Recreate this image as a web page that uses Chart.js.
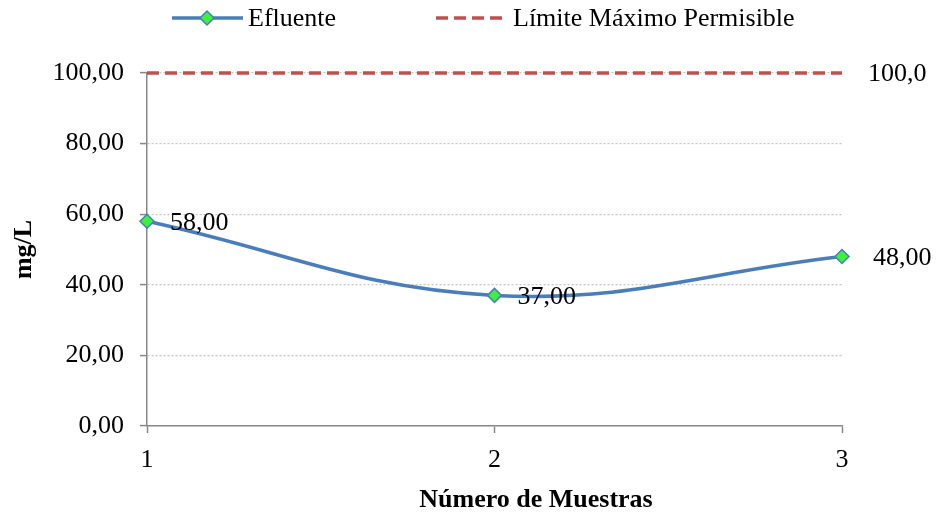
<!DOCTYPE html>
<html>
<head>
<meta charset="utf-8">
<script src="https://cdn.jsdelivr.net/npm/chart.js@4.4.1/dist/chart.umd.min.js"></script>
<style>
  html, body { margin: 0; padding: 0; background: #fff; }
  #wrap { width: 936px; height: 518px; }
</style>
</head>
<body>
<div id="wrap"><canvas id="chart" width="936" height="518"></canvas></div>
<script>
// === データ ===
const muestras = ['1', '2', '3'];
const efluente = [58, 37, 48];
const limiteMaximo = [100, 100, 100];
const yTicks = [0, 20, 40, 60, 80, 100];

const FONT = "'Liberation Serif', 'Times New Roman', serif";
const BLUE = '#4a7ebb';
const GREEN = '#3cf03c';
const RED = '#c0504d';

const fmt = (v, d) => v.toFixed(d).replace('.', ',');

// 値ラベル (点の右側)
const labelOffsets = [23, 23, 31];
const valueLabels = {
  id: 'valueLabels',
  afterDatasetsDraw(chart) {
    const ctx = chart.ctx;
    ctx.save();
    ctx.font = '26px ' + FONT;
    ctx.fillStyle = '#000';
    ctx.textBaseline = 'middle';
    ctx.textAlign = 'left';
    chart.getDatasetMeta(0).data.forEach((pt, i) => {
      ctx.fillText(fmt(efluente[i], 2), pt.x + labelOffsets[i], pt.y + 2);
    });
    const m1 = chart.getDatasetMeta(1);
    const last = m1.data[m1.data.length - 1];
    ctx.fillText(fmt(limiteMaximo[limiteMaximo.length - 1], 1), last.x + 26, last.y + 1);
    ctx.restore();
  }
};

// 凡例とX軸タイトル (Excel風)
const decorations = {
  id: 'decorations',
  afterDraw(chart) {
    const ctx = chart.ctx;
    const y = 18;
    ctx.save();
    ctx.lineWidth = 3.5;
    ctx.strokeStyle = BLUE;
    ctx.beginPath(); ctx.moveTo(172, y); ctx.lineTo(243, y); ctx.stroke();
    ctx.fillStyle = GREEN;
    ctx.lineWidth = 1.5;
    ctx.beginPath();
    ctx.moveTo(207, y - 7); ctx.lineTo(214, y); ctx.lineTo(207, y + 7); ctx.lineTo(200, y); ctx.closePath();
    ctx.fill(); ctx.stroke();
    ctx.strokeStyle = RED;
    ctx.lineWidth = 3.5;
    ctx.setLineDash([12, 6]);
    ctx.beginPath(); ctx.moveTo(436, y); ctx.lineTo(504, y); ctx.stroke();
    ctx.setLineDash([]);
    ctx.font = '26px ' + FONT;
    ctx.fillStyle = '#000';
    ctx.textBaseline = 'middle';
    ctx.fillText('Efluente', 248, y + 1);
    ctx.fillText('Límite Máximo Permisible', 513, y + 1);
    ctx.font = 'bold 26px ' + FONT;
    ctx.textAlign = 'center';
    ctx.fillText('Número de Muestras', 536, 500);
    ctx.restore();
  }
};

const ctx = document.getElementById('chart').getContext('2d');
new Chart(ctx, {
  type: 'line',
  data: {
    labels: muestras,
    datasets: [
      {
        label: 'Efluente', data: efluente,
        borderColor: BLUE, borderWidth: 3.5, tension: 0.4,
        pointStyle: 'rectRot', pointRadius: 7, pointBackgroundColor: GREEN,
        pointBorderColor: BLUE, pointBorderWidth: 1.5, order: 1, clip: false
      },
      {
        label: 'Límite Máximo Permisible', data: limiteMaximo,
        borderColor: RED, borderWidth: 3.5, borderDash: [12, 6],
        pointRadius: 0, tension: 0, order: 2, clip: false
      }
    ]
  },
  options: {
    responsive: false, animation: false,
    layout: { padding: { top: 73, right: 94, left: 0, bottom: 0 } },
    plugins: { legend: { display: false }, tooltip: { enabled: false } },
    scales: {
      x: {
        type: 'category', offset: false,
        afterFit: (axis) => { axis.height = 92; },
        grid: { drawOnChartArea: false, drawTicks: true, tickLength: 7, tickColor: '#888', tickWidth: 1.5 },
        border: { color: '#888', width: 1.5 },
        ticks: { color: '#000', font: { family: FONT, size: 26 }, padding: 12, maxRotation: 0 }
      },
      y: {
        min: 0, max: 100,
        afterFit: (axis) => { axis.width = 147; },
        afterBuildTicks: (axis) => { axis.ticks = yTicks.map(v => ({ value: v })); },
        grid: { color: '#c4c4c4', tickBorderDash: [], tickColor: '#888', tickLength: 7, tickWidth: 1.5, lineWidth: 1.2 },
        border: { color: '#888', width: 1.5, dash: [2, 2] },
        ticks: { color: '#000', font: { family: FONT, size: 26 }, padding: 16, callback: (v) => fmt(v, 2) },
        title: { display: true, text: 'mg/L', color: '#000', font: { family: FONT, size: 26, weight: 'bold' }, padding: { top: 9, bottom: 0 } }
      }
    }
  },
  plugins: [valueLabels, decorations]
});
</script>
</body>
</html>
